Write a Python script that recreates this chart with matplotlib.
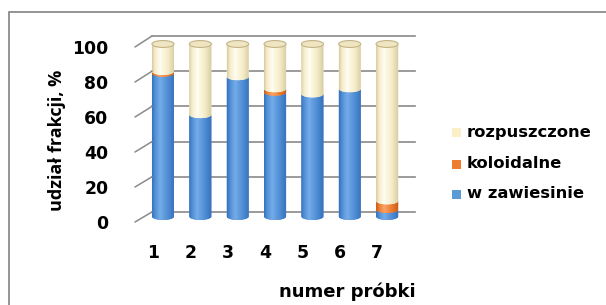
import numpy as np
import matplotlib
matplotlib.use("Agg")
import matplotlib.pyplot as plt
from matplotlib.path import Path
from matplotlib.patches import PathPatch, Ellipse, Rectangle, ConnectionPatch
from matplotlib.lines import Line2D
from matplotlib.colors import LinearSegmentedColormap

# ---------------- data ----------------
samples = ["1", "2", "3", "4", "5", "6", "7"]
w_zawiesinie = [83, 59, 81, 72, 71, 74, 4]
koloidalne = [1, 0, 0, 2, 0, 0, 5]
rozpuszczone = [16, 41, 19, 26, 29, 26, 91]
series_names = ["w zawiesinie", "koloidalne", "rozpuszczone"]
yticks = [0, 20, 40, 60, 80, 100]
ylabel = "udział frakcji, %"
xlabel = "numer próbki"

# colours (dark edge, highlight, mid) for the cylinder shading
shades = {
    "w zawiesinie": ("#3670B8", "#74ACE8", "#4E8DD5"),
    "koloidalne": ("#C9581A", "#F9A468", "#EC7B2C"),
    "rozpuszczone": ("#D6CBA2", "#FFFDF0", "#F5ECC8"),
}
legend_colors = {"w zawiesinie": "#5B9BD5", "koloidalne": "#ED7D31",
                 "rozpuszczone": "#FCEFC7"}

W, H = 606, 305
fig = plt.figure(figsize=(W / 100, H / 100), dpi=100)
FONT = "DejaVu Sans"


def fr(x0, y0, x1, y1):
    """pixel box (top-left origin) -> figure fraction rect"""
    return [x0 / W, 1 - y1 / H, (x1 - x0) / W, (y1 - y0) / H]


# outer frame (only top and left edges are visible)
fig.add_artist(Line2D([8.5 / W, 8.5 / W, 1.05], [-0.05, 1 - 12 / H, 1 - 12 / H],
                      transform=fig.transFigure, color="#8C8C8C", lw=1.3,
                      solid_capstyle="butt", solid_joinstyle="miter"))

# back wall (gridlines)
wall = fig.add_axes(fr(152, 36, 415, 212))
wall.set_xlim(0, 1)
wall.set_ylim(0, 100)
for v in yticks:
    wall.axhline(v, color="#8A8A8A", lw=1.2, clip_on=False)
wall.axis("off")

# front axis carrying tick labels
front = fig.add_axes(fr(135, 47, 150, 222))
front.set_ylim(0, 100)
front.set_xlim(0, 1)
front.set_yticks(yticks)
front.set_yticklabels([str(v) for v in yticks], fontsize=12.4,
                      fontweight="bold", family=FONT)
front.tick_params(axis="y", length=0, pad=19)
front.set_xticks([])
for s in front.spines.values():
    s.set_visible(False)
front.patch.set_visible(False)
for v in yticks:
    con = ConnectionPatch(xyA=(0, v), coordsA=front.get_yaxis_transform(),
                          xyB=(0, v), coordsB=wall.get_yaxis_transform(),
                          color="#8A8A8A", lw=1.1)
    fig.add_artist(con)

# bars axes
ax = fig.add_axes(fr(144.3, 37.1, 405.8, 223.4))
ax.set_xlim(0.5, 7.5)
ax.set_ylim(-4, 104)
ax.set_autoscale_on(False)
ax.axis("off")
ax.patch.set_visible(False)

x = np.arange(1, len(samples) + 1)
bw = 0.59
dy = 2.0  # half height of ellipse in data units


def seg_path(c, y0, y1):
    hw = bw / 2
    t = np.linspace(np.pi, 2 * np.pi, 40)
    bot = np.column_stack([c + hw * np.cos(t), y0 + dy * np.sin(t)])
    t2 = np.linspace(2 * np.pi, np.pi, 40)
    top = np.column_stack([c + hw * np.cos(t2), y1 + dy * np.sin(t2)])
    verts = np.vstack([bot, top, bot[:1]])
    codes = [Path.MOVETO] + [Path.LINETO] * (len(verts) - 2) + [Path.CLOSEPOLY]
    return Path(verts, codes)


def cmap_for(name):
    d, l, m = shades[name]
    return LinearSegmentedColormap.from_list(
        name, [(0, d), (0.12, m), (0.35, l), (0.7, m), (1, d)])


grad = np.linspace(0, 1, 64).reshape(1, -1)
data = {"w zawiesinie": w_zawiesinie, "koloidalne": koloidalne,
        "rozpuszczone": rozpuszczone}

for i, c in enumerate(x):
    base = 0.0
    for name in series_names:
        v = data[name][i]
        if v <= 0:
            continue
        y0, y1 = base, base + v
        p = PathPatch(seg_path(c, y0, y1), facecolor=shades[name][2],
                      edgecolor="none", zorder=2)
        ax.add_patch(p)
        im = ax.imshow(grad, cmap=cmap_for(name), aspect="auto",
                       extent=[c - bw / 2, c + bw / 2, y0 - dy - 1, y1 + dy + 1],
                       interpolation="bilinear", zorder=3)
        im.set_clip_path(p)
        base = y1
    # top cap
    ax.add_patch(Ellipse((c, base), bw, 2 * dy, facecolor="#EFE5C0",
                         edgecolor="#C2B487", lw=0.8, zorder=4))

# x tick labels (front floor, shifted left)
for i, c in enumerate(x):
    px = 153 + i * 37.33
    fig.text(px / W, 1 - 253 / H, samples[i], ha="center", va="center",
             fontsize=12.4, fontweight="bold", family=FONT)

fig.text(347 / W, 1 - 292 / H, xlabel, ha="center", va="center",
         fontsize=13, fontweight="bold", family=FONT)
fig.text(57 / W, 1 - 140 / H, ylabel, ha="center", va="center",
         rotation=90, fontsize=13, fontweight="bold", family="Open Sans")

# legend
leg_rows = [("rozpuszczone", 133), ("koloidalne", 164), ("w zawiesinie", 194)]
for name, py in leg_rows:
    fig.patches.append(Rectangle((451.5 / W, 1 - (py + 4.5) / H), 9 / W, 9 / H,
                                 transform=fig.transFigure,
                                 facecolor=legend_colors[name], edgecolor="none"))
    fig.text(467 / W, 1 - py / H, name, ha="left", va="center",
             fontsize=11.8, fontweight="bold", family=FONT)

fig.savefig("out.png", dpi=100)
